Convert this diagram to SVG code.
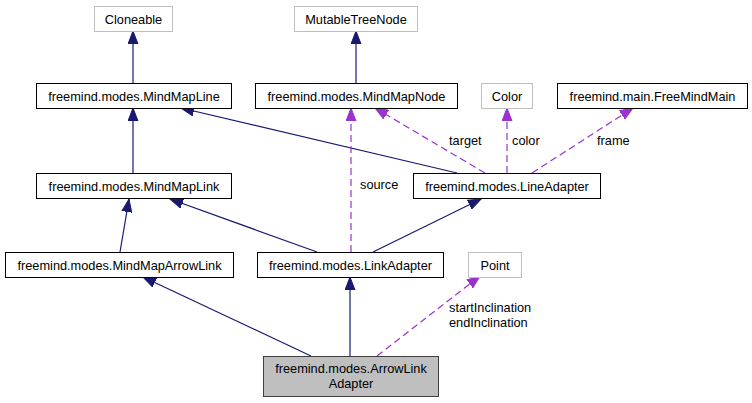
<svg xmlns="http://www.w3.org/2000/svg" width="752" height="403" viewBox="0 0 752 403">
<defs>
<marker id="ah" markerUnits="userSpaceOnUse" markerWidth="14" markerHeight="11" refX="13" refY="5.5" orient="auto"><path d="M0,0.5 L13,5.5 L0,10.5 z" fill="#191970" stroke="#191970"/></marker>
<marker id="ap" markerUnits="userSpaceOnUse" markerWidth="14" markerHeight="11" refX="13" refY="5.5" orient="auto"><path d="M0,0.5 L13,5.5 L0,10.5 z" fill="#9a32cd" stroke="#9a32cd"/></marker>
</defs>
<style>
text{font-family:"Liberation Sans",Arial,sans-serif;font-size:12.75px;fill:#000;text-anchor:middle}
.lbl{text-anchor:start}
.n{fill:#fff;stroke:#000;stroke-width:1}
.g{fill:#fff;stroke:#bfbfbf;stroke-width:1}
.h{fill:#bfbfbf;stroke:#404040;stroke-width:1}
.i{fill:none;stroke:#191970;stroke-width:1.2;marker-end:url(#ah)}
.u{fill:none;stroke:#9a32cd;stroke-width:1.2;stroke-dasharray:7,4;marker-end:url(#ap)}
</style>
<rect width="752" height="403" fill="#fff"/>
<g id="connectors">
<path class="i" d="M133,83 L133,31"/>
<path class="i" d="M133,173 L133,108"/>
<path class="i" d="M457,173 L181,108"/>
<path class="i" d="M356,83 L356,31"/>
<path class="i" d="M120,252 L129,199"/>
<path class="i" d="M317,252 L170,199"/>
<path class="i" d="M373,252 L481,199"/>
<path class="i" d="M311,356 L143,277"/>
<path class="i" d="M350,356 L350,277"/>
<path class="u" d="M351,252 L351,108"/>
<path class="u" d="M485,173 L375,108"/>
<path class="u" d="M507,173 L507,108"/>
<path class="u" d="M532,173 L633,108"/>
<path class="u" d="M377,356 L480,276"/>
<text class="lbl" x="360" y="189">source</text>
<text class="lbl" x="449" y="145">target</text>
<text class="lbl" x="512" y="145">color</text>
<text class="lbl" x="597" y="145">frame</text>
<text class="lbl" x="449" y="312">startInclination</text>
<text class="lbl" x="449" y="327">endInclination</text>
</g>
<g id="Cloneable"><rect class="g" x="94.5" y="6.5" width="78" height="25"/><text x="133.5" y="23.5">Cloneable</text></g>
<g id="MutableTreeNode"><rect class="g" x="294.5" y="6.5" width="123" height="25"/><text x="356" y="23.5">MutableTreeNode</text></g>
<g id="MindMapLine"><rect class="n" x="36.5" y="83.5" width="195" height="25"/><text x="134" y="100.5">freemind.modes.MindMapLine</text></g>
<g id="MindMapNode"><rect class="n" x="255.5" y="83.5" width="202" height="25"/><text x="356.5" y="100.5">freemind.modes.MindMapNode</text></g>
<g id="Color"><rect class="g" x="481.5" y="83.5" width="51" height="25"/><text x="507" y="100.5">Color</text></g>
<g id="FreeMindMain"><rect class="n" x="557.5" y="83.5" width="190" height="25"/><text x="652.5" y="100.5">freemind.main.FreeMindMain</text></g>
<g id="MindMapLink"><rect class="n" x="36.5" y="173.5" width="195" height="25"/><text x="134" y="190.5">freemind.modes.MindMapLink</text></g>
<g id="LineAdapter"><rect class="n" x="413.5" y="173.5" width="187" height="25"/><text x="507" y="190.5">freemind.modes.LineAdapter</text></g>
<g id="MindMapArrowLink"><rect class="n" x="5.5" y="252.5" width="228" height="25"/><text x="119.5" y="269.5">freemind.modes.MindMapArrowLink</text></g>
<g id="LinkAdapter"><rect class="n" x="257.5" y="252.5" width="186" height="25"/><text x="350.5" y="269.5">freemind.modes.LinkAdapter</text></g>
<g id="Point"><rect class="g" x="468.5" y="252.5" width="53" height="25"/><text x="495" y="269.5">Point</text></g>
<g id="ArrowLinkAdapter"><rect class="h" x="263.5" y="356.5" width="175" height="40"/><text x="351" y="372.5">freemind.modes.ArrowLink</text><text x="351" y="387.5">Adapter</text></g>
</svg>
